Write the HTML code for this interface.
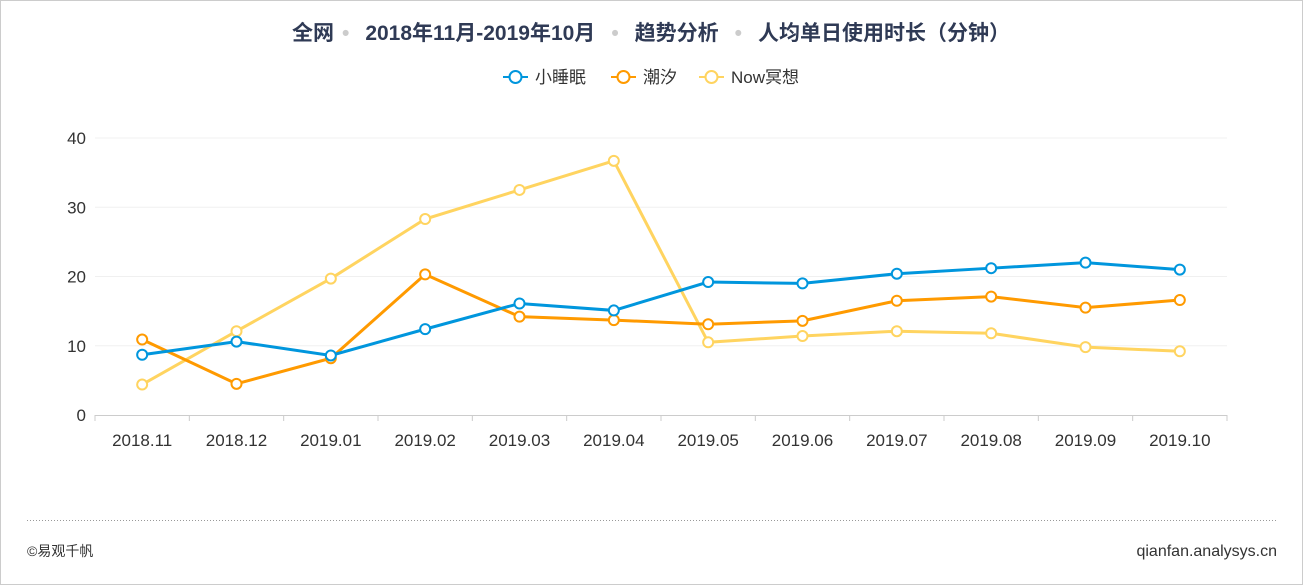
<!DOCTYPE html>
<html><head><meta charset="utf-8"><style>
body{margin:0;width:1303px;height:585px;background:#fff;font-family:"Liberation Sans","Noto Sans CJK SC",sans-serif;overflow:hidden}
#wrap{position:absolute;left:0;top:0;width:1301px;height:583px;border:1px solid #ccc}
</style></head><body>
<div id="wrap">
<svg id="chart" width="1303" height="585" style="position:absolute;left:-1px;top:-1px"></svg>
</div>
<script>
const categories=["2018.11","2018.12","2019.01","2019.02","2019.03","2019.04","2019.05","2019.06","2019.07","2019.08","2019.09","2019.10"];
const sleepVals=[8.7,10.6,8.6,12.4,16.1,15.1,19.2,19.0,20.4,21.2,22.0,21.0];
const tideVals=[10.9,4.5,8.2,20.3,14.2,13.7,13.1,13.6,16.5,17.1,15.5,16.6];
const nowVals=[4.4,12.1,19.7,28.3,32.5,36.7,10.5,11.4,12.1,11.8,9.8,9.2];
const yTicks=[0,10,20,30,40];
const seriesNames=["小睡眠","潮汐","Now冥想"];
const NS="http://www.w3.org/2000/svg";
const svg=document.getElementById('chart');
const x0=95,x1=1227,y0=415,y1=138,ymax=40;
const bw=(x1-x0)/categories.length;
const xs=i=>x0+bw*(i+0.5);
const ys=v=>y0-(v/ymax)*(y0-y1);
function el(t,a,p){const e=document.createElementNS(NS,t);for(const k in a)e.setAttribute(k,a[k]);(p||svg).appendChild(e);return e;}
let ti=el('text',{x:651,y:40,'text-anchor':'middle','font-size':21,'font-weight':'bold',fill:'#2f3a55'});


ti.innerHTML='全网<tspan fill="#ccc" dx="8">•</tspan><tspan dx="16">2018年11月-2019年10月</tspan><tspan fill="#ccc" dx="16">•</tspan><tspan dx="16">趋势分析</tspan><tspan fill="#ccc" dx="16">•</tspan><tspan dx="16">人均单日使用时长（分钟）</tspan>';
yTicks.forEach(v=>{
 if(v>0){const g=el('line',{x1:x0,x2:x1,y1:ys(v),y2:ys(v),stroke:'#f0f0f0'});}
 const t=el('text',{x:86,y:ys(v)+6,'text-anchor':'end','font-size':17,fill:'#333'});t.textContent=v;
 
});
const ax=el('line',{x1:x0,x2:x1,y1:y0+0.5,y2:y0+0.5,stroke:'#ccc'});

for(let i=0;i<=categories.length;i++){const tk=el('line',{x1:x0+bw*i,x2:x0+bw*i,y1:y0,y2:y0+6,stroke:'#ccc'});}
categories.forEach((c,i)=>{const t=el('text',{x:xs(i),y:446,'text-anchor':'middle','font-size':17,fill:'#333'});t.textContent=c;});
const colors=['#0096dd','#ff9a00','#ffd460'];
[nowVals,tideVals,sleepVals].forEach((vals,k)=>{
 const ci=2-k;
 const p=el('polyline',{points:vals.map((v,i)=>xs(i)+','+ys(v)).join(' '),fill:'none',stroke:colors[ci],'stroke-width':3});
 
 vals.forEach((v,i)=>{const c=el('circle',{cx:xs(i),cy:ys(v),r:5,fill:'#fff',stroke:colors[ci],'stroke-width':2});});
});
const lx=[503,611,699];
seriesNames.forEach((n,i)=>{
 const g=el('g',{});
 
 el('line',{x1:lx[i],x2:lx[i]+25,y1:77,y2:77,stroke:colors[i],'stroke-width':2},g);
 el('circle',{cx:lx[i]+12.5,cy:77,r:6,fill:'#fff',stroke:colors[i],'stroke-width':2},g);
 const t=el('text',{x:lx[i]+32,y:83,'font-size':17,fill:'#333'},g);t.textContent=n;
});
const sep=el('line',{x1:27,x2:1277,y1:520.5,y2:520.5,stroke:'#999','stroke-dasharray':'1,2'});

const f1=el('text',{x:27,y:556,'font-size':14,fill:'#333'});f1.textContent='©易观千帆';

const f2=el('text',{x:1277,y:556,'text-anchor':'end','font-size':16,fill:'#333'});f2.textContent='qianfan.analysys.cn';

</script>
</body></html>
